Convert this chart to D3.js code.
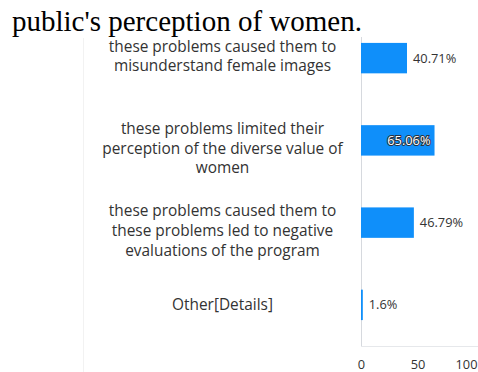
<!DOCTYPE html>
<html>
<head>
<meta charset="utf-8">
<script src="https://cdn.jsdelivr.net/npm/d3@7/dist/d3.min.js"></script>
<style>
  html, body { margin: 0; padding: 0; background: #fff; }
  svg { display: block; }
</style>
</head>
<body>
<svg id="chart" width="478" height="372"></svg>
<script>
// Survey answers, top to bottom, with each label split into its display lines
const categories = [
  ["these problems caused them to", "misunderstand female images"],
  ["these problems limited their", "perception of the diverse value of", "women"],
  ["these problems caused them to", "these problems led to negative", "evaluations of the program"],
  ["Other[Details]"]
];
const values = [40.71, 65.06, 46.79, 1.6];
const valueLabels = ["40.71%", "65.06%", "46.79%", "1.6%"];
const xTicks = [0, 50, 100];
const titleText = "public's perception of women.";

const svg = d3.select("#chart");
const W = 478, H = 372;
const labelFont = "'Open Sans', 'Noto Sans', sans-serif";

const x = d3.scaleLinear().domain([0, 100]).range([361, 474]);
const y = d3.scaleBand().domain(d3.range(values.length)).range([17, 346]).paddingInner(0.63).paddingOuter(0.315);

// faint frame line on the left of the chart panel
svg.append("line")
  .attr("x1", 83.5).attr("x2", 83.5).attr("y1", 38).attr("y2", H)
  .attr("stroke", "#f2f2f2").attr("stroke-width", 1);

// category axis line
svg.append("line")
  .attr("x1", 361.5).attr("x2", 361.5).attr("y1", 37).attr("y2", 346)
  .attr("stroke", "#d6d9de").attr("stroke-width", 1);
// value baseline
svg.append("line")
  .attr("x1", 361).attr("x2", W).attr("y1", 346.5).attr("y2", 346.5)
  .attr("stroke", "#e6e8eb").attr("stroke-width", 1);

// bars
svg.append("g").selectAll("rect")
  .data(values)
  .join("rect")
  .attr("x", x(0))
  .attr("y", (d, i) => y(i))
  .attr("width", d => x(d) - x(0))
  .attr("height", y.bandwidth())
  .attr("fill", "#0f8ffa");

// category labels, centred in the left column
const catG = svg.append("g")
  .attr("font-family", labelFont)
  .attr("font-size", 15.4)
  .attr("fill", "#333")
  .attr("text-anchor", "middle");
categories.forEach((lines, i) => {
  const cy = y(i) + y.bandwidth() / 2;
  const first = lines.length === 1 ? cy : cy - 12;
  const t = catG.append("text").attr("x", 222.5);
  lines.forEach((ln, j) => {
    t.append("tspan")
      .attr("x", 222.5)
      .attr("y", first + j * 19.8)
      .attr("dy", "0.35em")
      .text(ln);
  });
});

// value labels: outside the bar, except the longest bar which carries it inside
const maxIdx = values.indexOf(d3.max(values));
const valG = svg.append("g")
  .attr("font-family", labelFont)
  .attr("font-size", 12.8);
values.forEach((v, i) => {
  const cy = y(i) + y.bandwidth() / 2;
  if (i === maxIdx) {
    valG.append("text")
      .attr("x", x(v) - 4)
      .attr("y", cy)
      .attr("dy", "0.35em")
      .attr("text-anchor", "end")
      .attr("fill", "#fff")
      .attr("stroke", "#2a3340")
      .attr("stroke-width", 2)
      .attr("paint-order", "stroke")
      .text(valueLabels[i]);
  } else {
    valG.append("text")
      .attr("x", x(v) + 6)
      .attr("y", cy)
      .attr("dy", "0.35em")
      .attr("fill", "#333")
      .text(valueLabels[i]);
  }
});

// value axis
const xAxis = d3.axisBottom(x).tickValues(xTicks).tickSize(0).tickPadding(14);
const axG = svg.append("g").attr("transform", "translate(0,346)").call(xAxis);
axG.select(".domain").remove();
axG.selectAll("text")
  .attr("font-family", labelFont)
  .attr("font-size", 12.8)
  .attr("fill", "#333");
axG.selectAll(".tick").filter(d => d === 100).select("text")
  .attr("text-anchor", "end").attr("dx", 3);

// heading line from the surrounding document, on white
svg.append("rect").attr("x", 0).attr("y", 0).attr("width", W).attr("height", 37).attr("fill", "#fff");
svg.append("text")
  .attr("x", 12).attr("y", 31)
  .attr("font-family", "'Liberation Serif', 'Times New Roman', serif")
  .attr("font-size", 29)
  .attr("fill", "#000")
  .text(titleText);
</script>
</body>
</html>
